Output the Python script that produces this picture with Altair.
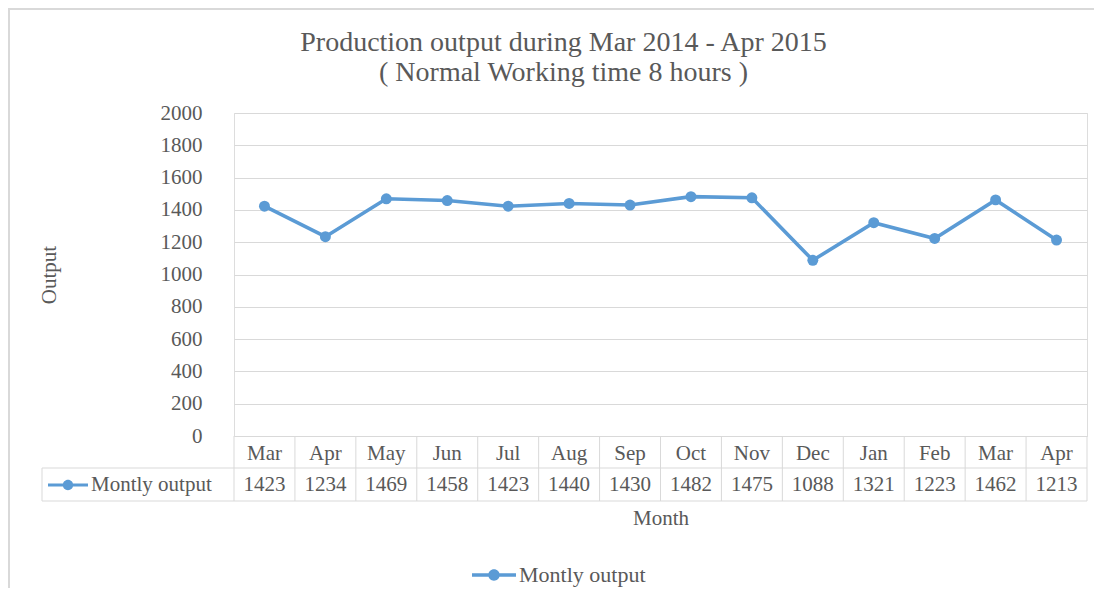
import altair as alt
import pandas as pd

# ---- data ----
months = ["Mar", "Apr", "May", "Jun", "Jul", "Aug", "Sep", "Oct", "Nov", "Dec", "Jan", "Feb", "Mar", "Apr"]
years = [2014, 2014, 2014, 2014, 2014, 2014, 2014, 2014, 2014, 2014, 2015, 2015, 2015, 2015]
output = [1423, 1234, 1469, 1458, 1423, 1440, 1430, 1482, 1475, 1088, 1321, 1223, 1462, 1213]
y_ticks = [0, 200, 400, 600, 800, 1000, 1200, 1400, 1600, 1800, 2000]
series_name = "Montly output"
title_lines = ["Production output during Mar 2014 - Apr 2015", "( Normal Working time 8 hours )"]
x_title = "Month"
y_title = "Output"

keys = [f"{m} {y}" for m, y in zip(months, years)]
df = pd.DataFrame({
    "key": keys,
    "output": output,
    "label": [str(v) for v in output],
    "series": series_name,
    "series2": series_name,
})

# ---- styling ----
W, H = 853, 323
FONT = "Liberation Serif"
GRAY = "#595959"
GRID = "#d9d9d9"
BLUE = "#5b9bd5"
FS = 21

# legend symbol: line with a dot in the middle (filled path)
SYM = ("M-1,-0.08L-0.2,-0.08L-0.2,0.08L-1,0.08Z"
       "M0.2,-0.08L1,-0.08L1,0.08L0.2,0.08Z"
       "M-0.26,0A0.26,0.26,0,1,1,0.26,0A0.26,0.26,0,1,1,-0.26,0Z")

xscale = alt.Scale(type="band", domain=keys, paddingInner=0, paddingOuter=0)
yscale = alt.Scale(domain=[0, 2000])

base = alt.Chart(df)

x_axis = alt.Axis(
    labelExpr="split(datum.value, ' ')[0]", labelAngle=0, labelAlign="center", bandPosition=0.5,
    ticks=False, domain=False, grid=False,
    labelFont=FONT, labelFontSize=FS, labelColor=GRAY, labelPadding=17,
    title=x_title, titleFont=FONT, titleFontSize=FS, titleFontWeight="normal", titleColor=GRAY,
    titlePadding=44,
)
y_axis = alt.Axis(
    values=y_ticks, format="d", labelOverlap=False, grid=True, gridColor=GRID, gridWidth=1,
    domain=False, ticks=False,
    labelFont=FONT, labelFontSize=FS, labelColor=GRAY, labelPadding=32,
    title=y_title, titleFont=FONT, titleFontSize=FS, titleFontWeight="normal", titleColor=GRAY,
    titlePadding=101,
)

X = alt.X("key:N", scale=xscale, axis=x_axis, sort=keys)
Y = alt.Y("output:Q", scale=yscale, axis=y_axis)

line = base.mark_line(color=BLUE, strokeWidth=3.6).encode(x=X, y=Y)

points = base.mark_point(filled=True, size=120, opacity=1).encode(
    x=X,
    y=Y,
    color=alt.Color("series:N", scale=alt.Scale(domain=[series_name], range=[BLUE]),
                    legend=alt.Legend(title=None, orient="none", legendX=238, legendY=440,
                                      symbolType=SYM, symbolSize=1936, symbolStrokeWidth=0,
                                      labelFont=FONT, labelFontSize=22, labelColor=GRAY,
                                      labelOffset=3, padding=0)),
    opacity=alt.Opacity("series2:N", scale=alt.Scale(range=[1]),
                        legend=alt.Legend(title=None, orient="none", legendX=-186, legendY=352,
                                          symbolType=SYM, symbolSize=1600, symbolStrokeWidth=0,
                                          symbolFillColor=BLUE,
                                          labelFont=FONT, labelFontSize=FS, labelColor=GRAY,
                                          labelOffset=3, padding=0)),
)

# data table: values row
values_row = base.mark_text(font=FONT, fontSize=FS, color=GRAY, baseline="middle").encode(
    x=X,
    y=alt.value(H + 49),
    text="label:N",
)

# table cell separators at band edges
sep_left = base.mark_rule(color=GRID, strokeWidth=1).encode(
    x=alt.X("key:N", scale=xscale, sort=keys, bandPosition=0),
    y=alt.value(H), y2=alt.value(H + 65),
)
sep_right = base.transform_filter(alt.datum.key == keys[-1]).mark_rule(color=GRID, strokeWidth=1).encode(
    x=alt.X("key:N", scale=xscale, sort=keys, bandPosition=1),
    y=alt.value(H), y2=alt.value(H + 65),
)
one = alt.Chart(pd.DataFrame({"a": [0]}))
hline1 = one.mark_rule(color=GRID, strokeWidth=1).encode(x=alt.value(-192), x2=alt.value(W), y=alt.value(H + 32))
hline2 = one.mark_rule(color=GRID, strokeWidth=1).encode(x=alt.value(-192), x2=alt.value(W), y=alt.value(H + 65))
vline0 = one.mark_rule(color=GRID, strokeWidth=1).encode(x=alt.value(-192), y=alt.value(H + 32), y2=alt.value(H + 65))

# outer chart frame (top / left)
frame_top = one.mark_rule(color=GRID, strokeWidth=2).encode(x=alt.value(-226), x2=alt.value(W + 7), y=alt.value(-104))
frame_left = one.mark_rule(color=GRID, strokeWidth=2).encode(x=alt.value(-225), y=alt.value(-105), y2=alt.value(H + 152))

chart = alt.layer(
    frame_top, frame_left, sep_left, sep_right, hline1, hline2, vline0, line, points, values_row
).properties(
    width=W, height=H,
    title=alt.Title(text=title_lines, font=FONT, fontSize=28, fontWeight="normal", color=GRAY,
                    anchor="middle", dx=-97, offset=-80, lineHeight=30),
    padding={"left": 226, "top": 105, "right": 7, "bottom": 152},
    autosize=alt.AutoSizeParams(type="none"),
).resolve_legend(
    color="independent", opacity="independent"
).configure_view(
    stroke=None
).configure(
    background="white"
)

chart.save("out.html", embed_options={"renderer": "svg", "actions": False})
